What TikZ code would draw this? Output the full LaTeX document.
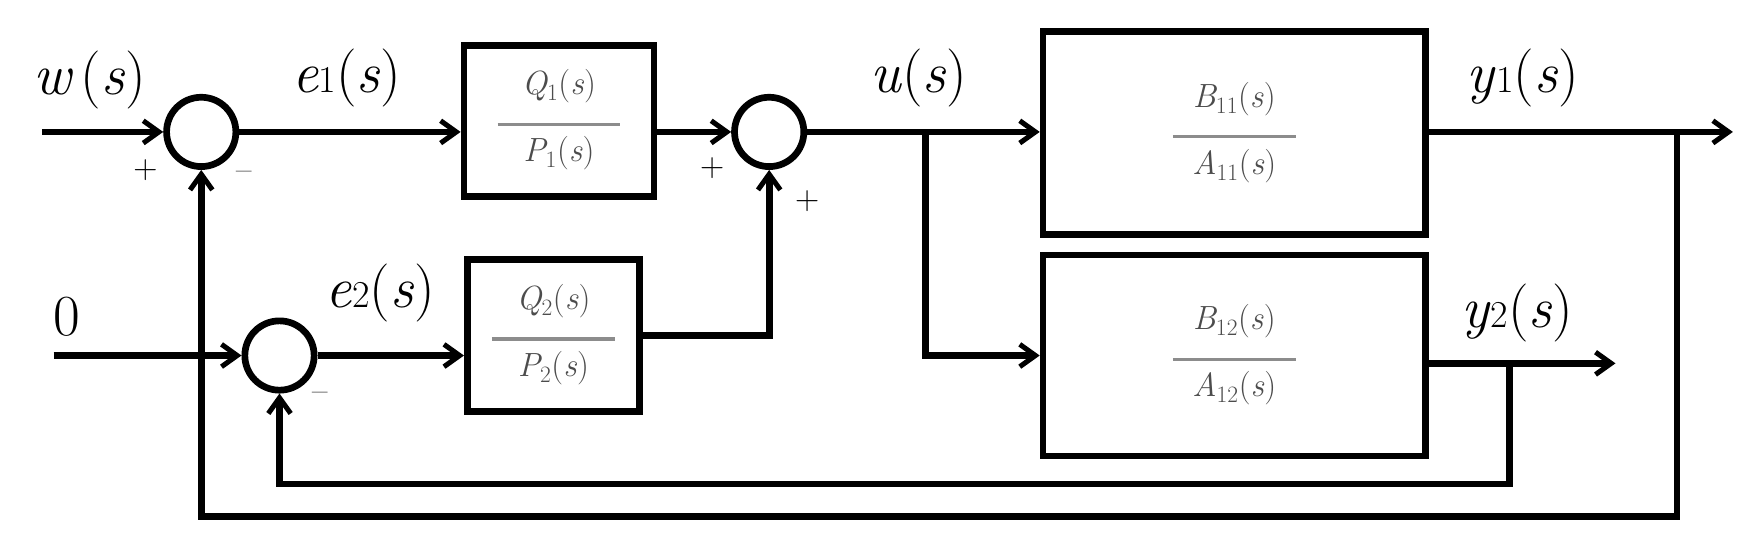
\documentclass[tikz,border=0pt]{standalone}
\usepackage{fontspec}
\usetikzlibrary{arrows.meta}
\begin{document}
\begin{tikzpicture}[x=1pt,y=-1pt,
  line width=6pt,
  sig/.style={-{Straight Barb[length=14pt,width=20pt,line width=4.5pt]}},
  blk/.style={draw,line width=6pt,minimum width=#1,inner sep=0pt},
  sum/.style={draw,circle,line width=6pt,minimum size=62pt,inner sep=0pt},
  lab/.style={font=\rmfamily\fontsize{52}{56}\selectfont\itshape},
  sgn/.style={font=\rmfamily\fontsize{30}{32}\selectfont},
  frac/.style={font=\rmfamily\fontsize{30}{34}\selectfont\itshape,text=black!70}]
\useasboundingbox (0,0) rectangle (1568,500);
\newcommand{\myfr}[2]{\begin{tabular}{@{}c@{}}#1\\[-6pt]\textcolor{black!45}{\rule{110pt}{3pt}}\\[-2pt]#2\end{tabular}}
\newcommand{\ssb}[1]{\textsubscript{\upshape #1}}
\newcommand{\pss}{\textup{(}s\textup{)}}
\node[sum] (s1) at (180,118) {};
\node[sum] (s2) at (688,118) {};
\node[sum] (s3) at (250,318) {};
\node[blk, minimum width=170pt, minimum height=135pt] (q1) at (500,108) {};
\node[frac] at (q1) {\myfr{Q\ssb{1}\pss}{P\ssb{1}\pss}};
\node[blk, minimum width=154pt, minimum height=136pt] (q2) at (495,300) {};
\node[frac] at (q2) {\myfr{Q\ssb{2}\pss}{P\ssb{2}\pss}};
\node[blk, minimum width=342pt, minimum height=182pt] (b1) at (1104,119) {};
\node[frac] at (b1) {\myfr{B\ssb{11}\pss}{A\ssb{11}\pss}};
\node[blk, minimum width=342pt, minimum height=180pt] (b2) at (1104,318) {};
\node[frac] at (b2) {\myfr{B\ssb{12}\pss}{A\ssb{12}\pss}};
\coordinate (win) at (38,118);
\coordinate (zin) at (48,318);
\coordinate (br) at (828,118);
\coordinate (y1o) at (1550,118);
\coordinate (y2o) at (1445,325);
\coordinate (f1) at (1500,118);
\coordinate (f2) at (1350,325);
\draw[sig] (win) -- (s1.west);
\draw[sig] (s1.east) -- (q1.west |- s1.east);
\draw[sig] (q1.east |- s2.west) -- (s2.west);
\draw[sig] (s2.east) -- (b1.west |- s2.east);
\draw[sig] (br) |- (b2.west);
\draw[sig] (zin) -- (s3.west);
\draw[sig] (s3.east) -- (q2.west |- s3.east);
\draw[sig] (q2.east) -| (s2.south);
\draw[sig] (b1.east |- y1o) -- (y1o);
\draw[sig] (b2.east |- y2o) -- (y2o);
\draw[sig] (f1) |- (180,462) -- (s1.south);
\draw[sig] (f2) |- (250,433) -- (s3.south);
\node[lab] at (80,72) {w\,\pss};
\node[lab] at (310,70) {e\textup{\fontsize{34}{34}\selectfont 1}\pss};
\node[lab] at (822,70) {u\pss};
\node[lab] at (1362,70) {y\textup{\fontsize{34}{34}\selectfont 1}\pss};
\node[lab] at (60,283) {\textup{0}};
\node[lab] at (340,262) {e\textup{\fontsize{34}{34}\selectfont 2}\pss};
\node[lab] at (1357,280) {y\textup{\fontsize{34}{34}\selectfont 2}\pss};
\node[sgn] at (130,152) {+};
\node[sgn] at (218,157) {–};
\node[sgn] at (637,150) {+};
\node[sgn] at (722,180) {+};
\node[sgn] at (286,355) {–};
\end{tikzpicture}
\end{document}
